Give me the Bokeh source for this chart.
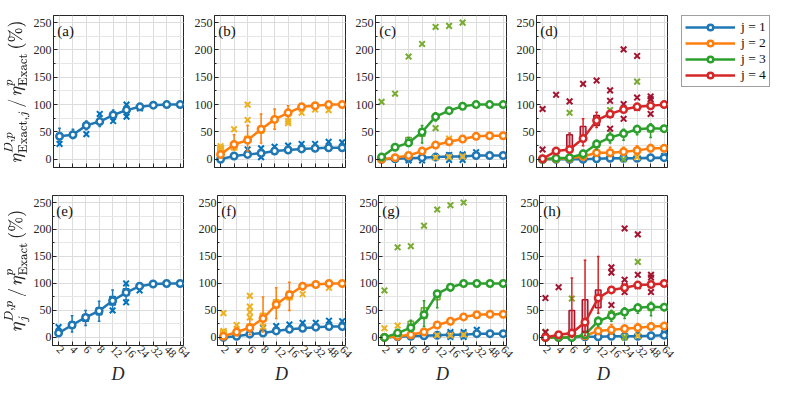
import math
from bokeh.plotting import figure
from bokeh.layouts import column, row
from bokeh.models import (Range1d, FixedTicker, SingleIntervalTicker, Label,
                          Legend, LegendItem)
from bokeh.embed import file_html
from bokeh.resources import INLINE

# ---------------- data ----------------
D_VALUES = [2, 4, 6, 8, 12, 16, 24, 32, 48, 64]
D_LABELS = [str(d) for d in D_VALUES]
J_LABELS = ["j = 1", "j = 2", "j = 3", "j = 4"]
PANEL_TAGS = ["(a)", "(b)", "(c)", "(d)", "(e)", "(f)", "(g)", "(h)"]
LINE_COLORS = ["#1f77b4", "#ff7f0e", "#2ca02c", "#d62728"]
BOX_COLORS = ["#0072BD", "#EDB120", "#77AC30", "#A2142F"]

# panel (a)
a1_med = [42, 45, 62, 69, 81, 90, 96, 99, 100, 100]
a1_q1 = [38, 41, 58, 65, 77, 86, 94, 98, 99, 100]
a1_q3 = [47, 49, 66, 73, 85, 94, 98, 100, 100, 100]
a1_wl = [33, 38, 54, 60, 72, 82, 92, 97, 98, 99]
a1_wh = [57, 55, 70, 78, 90, 98, 100, 101, 101, 101]
a1_out_d = [2, 6, 8, 12, 16, 16, 24]
a1_out_v = [28, 46, 83, 70, 100, 78, 93]

# panel (b)
b1_med = [0, 6, 9, 11, 15, 17, 19, 20, 21, 21]
b1_wl = [0, 3, 5, 6, 11, 13, 15, 16, 17, 17]
b1_wh = [3, 9, 13, 16, 20, 22, 24, 25, 26, 26]
b1_out_d = [6, 8, 8, 12, 16, 24, 32, 48, 64]
b1_out_v = [18, 20, 4, 23, 25, 28, 28, 32, 31]
b2_med = [9, 27, 35, 55, 73, 85, 96, 98, 100, 100]
b2_q1 = [14, 17, 32, 48, 68, 80, 93, 97, 99, 100]
b2_q3 = [25, 27, 42, 60, 76, 88, 97, 99, 100, 100]
b2_wl = [3, 18, 15, 30, 55, 70, 90, 96, 98, 99]
b2_wh = [25, 45, 62, 83, 92, 98, 100, 101, 101, 101]
b2_out_d = [2, 2, 4, 6, 6, 16, 16, 24, 32, 48]
b2_out_v = [24, 19, 55, 100, 72, 70, 66, 85, 91, 90]

# panel (c)
c1_med = [0, 1, 2, 3, 4, 5, 5, 7, 7, 7]
c1_out_d = [6, 8, 16, 16, 24, 24, 32]
c1_out_v = [-2, -2, 8, -1, 9, -1, 13]
c2_med = [0, 3, 7, 15, 26, 32, 37, 42, 43, 43]
c2_wl = [0, 1, 4, 11, 22, 28, 33, 38, 39, 39]
c2_wh = [1, 5, 10, 19, 30, 36, 41, 46, 47, 47]
c2_out_d = [12, 16, 16, 24]
c2_out_v = [3, 4, 38, 5]
c3_med = [4, 22, 30, 50, 78, 89, 97, 100, 100, 100]
c3_q1 = [3, 22, 31, 42, 75, 88, 97, 100, 100, 100]
c3_q3 = [8, 22, 40, 55, 82, 92, 99, 100, 100, 100]
c3_wl = [2, 18, 25, 30, 70, 85, 95, 99, 99, 99]
c3_wh = [8, 26, 40, 62, 85, 94, 100, 101, 101, 101]
c3_out_d = [2, 4, 6, 8, 12, 12, 16, 24]
c3_out_v = [105, 120, 188, 211, 242, 57, 244, 250]

# panel (d)
d1_med = [0, 0, 0, 0, 1, 2, 2, 2, 3, 3]
d1_out_d = [64]
d1_out_v = [6]
d2_med = [0, 1, 2, 5, 12, 12, 14, 16, 20, 20]
d2_wl = [0, 0, 0, 2, 6, 5, 8, 10, 14, 14]
d2_wh = [1, 2, 4, 10, 18, 22, 22, 25, 27, 26]
d2_out_d = [32]
d2_out_v = [4]
d3_med = [0, 2, 3, 10, 28, 40, 47, 55, 57, 56]
d3_q1 = [0, 2, 3, 8, 22, 37, 45, 50, 50, 53]
d3_q3 = [0, 2, 3, 12, 32, 45, 50, 58, 60, 60]
d3_wl = [0, 0, 0, 2, 18, 30, 35, 45, 40, 50]
d3_wh = [2, 4, 6, 16, 35, 50, 55, 62, 65, 60]
d3_out_d = [6, 16, 24, 32]
d3_out_v = [85, 90, 0, 142]
d4_med = [1, 15, 18, 38, 71, 83, 91, 96, 98, 100]
d4_q1 = [1, 12, 16, 41, 62, 77, 90, 95, 98, 100]
d4_q3 = [3, 19, 45, 60, 80, 86, 93, 98, 99, 100]
d4_wl = [0, 10, 14, 25, 58, 76, 88, 94, 97, 99]
d4_wh = [4, 20, 48, 74, 86, 89, 95, 99, 100, 101]
d4_out_d = [2, 2, 4, 6, 8, 12, 16, 16, 16, 24, 24, 24, 32, 32, 32, 48, 48, 48]
d4_out_v = [92, 18, 118, 106, 138, 144, 126, 107, 56, 201, 101, 74, 189, 113, 94, 115, 110, 83]

# panel (e)
e1_med = [8, 23, 37, 49, 68, 83, 95, 99, 100, 100]
e1_q1 = [6, 18, 30, 42, 60, 78, 92, 98, 99, 100]
e1_q3 = [12, 28, 42, 55, 76, 90, 98, 100, 100, 100]
e1_wl = [4, 10, 22, 30, 48, 70, 88, 97, 98, 99]
e1_wh = [12, 40, 50, 67, 88, 98, 100, 101, 101, 101]
e1_out_d = [2, 12, 16, 16, 24]
e1_out_v = [19, 50, 100, 65, 87]

# panel (f)
f1_med = [0, 2, 6, 8, 12, 15, 17, 19, 20, 20]
f1_wl = [0, 0, 3, 5, 9, 12, 14, 15, 16, 16]
f1_wh = [2, 5, 9, 12, 16, 19, 21, 23, 24, 24]
f1_out_d = [8, 12, 16, 24, 32, 48, 64]
f1_out_v = [18, 21, 24, 27, 27, 31, 30]
f2_med = [2, 10, 18, 35, 61, 79, 95, 98, 100, 100]
f2_q1 = [5, 8, 15, 30, 55, 70, 92, 97, 99, 100]
f2_q3 = [14, 13, 25, 45, 70, 85, 97, 99, 100, 100]
f2_wl = [0, 3, 5, 10, 35, 50, 88, 96, 98, 99]
f2_wh = [8, 18, 35, 75, 92, 102, 100, 101, 101, 101]
f2_out_d = [2, 2, 4, 6, 6, 6, 6, 8, 24, 48]
f2_out_v = [45, 12, 23, 77, 57, 47, 37, 20, 80, 92]

# panel (g)
g1_med = [0, 1, 2, 3, 4, 5, 5, 7, 7, 7]
g1_out_d = [16, 16, 24, 24, 32]
g1_out_v = [10, 1, 10, 1, 14]
g2_med = [0, 2, 5, 10, 23, 30, 38, 42, 43, 43]
g2_wl = [0, 0, 3, 7, 19, 26, 34, 38, 39, 39]
g2_wh = [1, 4, 7, 13, 27, 34, 42, 46, 47, 47]
g2_out_d = [2, 4, 12, 16, 24]
g2_out_v = [17, 22, 4, 4, 5]
g3_med = [0, 8, 18, 42, 81, 93, 100, 100, 100, 100]
g3_q1 = [0, 8, 20, 35, 70, 89, 100, 100, 100, 100]
g3_q3 = [0, 8, 30, 55, 82, 96, 100, 100, 100, 100]
g3_wl = [0, 6, 14, 20, 55, 86, 99, 99, 99, 99]
g3_wh = [2, 10, 32, 68, 86, 98, 101, 101, 101, 101]
g3_out_d = [2, 4, 6, 8, 12, 16, 24]
g3_out_v = [87, 167, 169, 207, 237, 245, 250]

# panel (h)
h1_med = [0, 0, 0, 1, 1, 2, 2, 2, 3, 4]
h1_out_d = [64]
h1_out_v = [8]
h2_med = [0, 0, 1, 3, 12, 14, 16, 18, 20, 21]
h2_wl = [0, 0, 0, 1, 6, 6, 9, 11, 14, 15]
h2_wh = [1, 1, 3, 8, 18, 24, 23, 26, 27, 27]
h2_out_d = [24, 32]
h2_out_v = [0, 3]
h3_med = [0, 0, 0, 5, 30, 40, 47, 55, 57, 56]
h3_q1 = [0, 0, 0, 3, 25, 36, 45, 50, 50, 53]
h3_q3 = [0, 0, 0, 8, 36, 48, 50, 58, 60, 60]
h3_wl = [0, 0, 0, 1, 20, 30, 35, 45, 40, 50]
h3_wh = [2, 2, 2, 10, 38, 50, 55, 62, 65, 60]
h3_out_d = [2, 6, 24, 32]
h3_out_v = [10, 72, 0, 140]
h4_med = [0, 5, 8, 28, 73, 88, 92, 97, 98, 100]
h4_q1 = [0, 4, 5, 10, 55, 85, 90, 95, 98, 100]
h4_q3 = [0, 6, 50, 70, 88, 90, 94, 98, 99, 100]
h4_wl = [0, 3, 0, 3, 45, 83, 88, 93, 97, 99]
h4_wh = [2, 7, 110, 143, 150, 92, 96, 99, 100, 101]
h4_out_d = [2, 2, 4, 16, 16, 16, 24, 24, 24, 24, 32, 32, 32, 48, 48, 48]
h4_out_v = [73, 10, 93, 130, 120, 60, 202, 107, 95, 84, 191, 116, 95, 116, 111, 84]

PANELS = [
    [(1, a1_med, a1_q1, a1_q3, a1_wl, a1_wh, a1_out_d, a1_out_v)],
    [(1, b1_med, None, None, b1_wl, b1_wh, b1_out_d, b1_out_v),
     (2, b2_med, b2_q1, b2_q3, b2_wl, b2_wh, b2_out_d, b2_out_v)],
    [(1, c1_med, None, None, None, None, c1_out_d, c1_out_v),
     (2, c2_med, None, None, c2_wl, c2_wh, c2_out_d, c2_out_v),
     (3, c3_med, c3_q1, c3_q3, c3_wl, c3_wh, c3_out_d, c3_out_v)],
    [(1, d1_med, None, None, None, None, d1_out_d, d1_out_v),
     (2, d2_med, None, None, d2_wl, d2_wh, d2_out_d, d2_out_v),
     (3, d3_med, d3_q1, d3_q3, d3_wl, d3_wh, d3_out_d, d3_out_v),
     (4, d4_med, d4_q1, d4_q3, d4_wl, d4_wh, d4_out_d, d4_out_v)],
    [(1, e1_med, e1_q1, e1_q3, e1_wl, e1_wh, e1_out_d, e1_out_v)],
    [(1, f1_med, None, None, f1_wl, f1_wh, f1_out_d, f1_out_v),
     (2, f2_med, f2_q1, f2_q3, f2_wl, f2_wh, f2_out_d, f2_out_v)],
    [(1, g1_med, None, None, None, None, g1_out_d, g1_out_v),
     (2, g2_med, None, None, g2_wl, g2_wh, g2_out_d, g2_out_v),
     (3, g3_med, g3_q1, g3_q3, g3_wl, g3_wh, g3_out_d, g3_out_v)],
    [(1, h1_med, None, None, None, None, h1_out_d, h1_out_v),
     (2, h2_med, None, None, h2_wl, h2_wh, h2_out_d, h2_out_v),
     (3, h3_med, h3_q1, h3_q3, h3_wl, h3_wh, h3_out_d, h3_out_v),
     (4, h4_med, h4_q1, h4_q3, h4_wl, h4_wh, h4_out_d, h4_out_v)],
]

YLABEL_TOP = r"$$\eta^{D,p}_{\mathrm{Exact},j}\,/\,\eta^{p}_{\mathrm{Exact}}\,(\%)$$"
YLABEL_BOT = r"$$\eta^{D,p}_{j}\,/\,\eta^{p}_{\mathrm{Exact}}\,(\%)$$"

SERIF = "Liberation Serif"
AX_COLOR = "#262626"
XS = list(range(1, len(D_VALUES) + 1))
FRAME_W, FRAME_H = 131, 152


def draw_series(p, j, med, q1, q3, wl, wh, out_d, out_v):
    lc = LINE_COLORS[j - 1]
    bc = BOX_COLORS[j - 1]
    if q1 is not None:
        idx = [i for i in range(len(XS)) if q3[i] - q1[i] > 0.5]
        p.vbar(x=[XS[i] for i in idx], width=0.42,
               bottom=[q1[i] for i in idx], top=[q3[i] for i in idx],
               fill_color=bc, fill_alpha=0.25, line_color=bc, line_width=1.5)
    if wl is not None:
        idx = [i for i in range(len(XS)) if wh[i] - wl[i] > 0.5]
        xw = [XS[i] for i in idx]
        lo = [wl[i] for i in idx]
        hi = [wh[i] for i in idx]
        p.segment(x0=xw, y0=lo, x1=xw, y1=hi, line_color=lc, line_width=1.5)
        p.segment(x0=[x - 0.1 for x in xw], y0=hi, x1=[x + 0.1 for x in xw], y1=hi,
                  line_color=lc, line_width=1.5)
        p.segment(x0=[x - 0.1 for x in xw], y0=lo, x1=[x + 0.1 for x in xw], y1=lo,
                  line_color=lc, line_width=1.5)
    if out_d:
        p.scatter(x=[D_VALUES.index(d) + 1 for d in out_d], y=out_v, marker="x",
                  size=8, line_width=2, line_color=bc)
    p.line(XS, med, line_color=lc, line_width=2.5)
    p.scatter(XS, med, marker="circle", size=6.5, line_color=lc, line_width=2.5,
              fill_color="white")


def make_panel(k):
    top = k < 4
    col = k % 4
    first = col == 0
    if top:
        left = 52 if first else 25
        right = 6 if first else 5
        btop, bbot = 15, 20
    else:
        left = 52 if first else 19
        right = 12 if first else 11
        btop, bbot = 8, 40
    p = figure(width=left + FRAME_W + right, height=btop + FRAME_H + bbot,
               output_backend="svg", toolbar_location=None,
               x_range=Range1d(0.55, 10.25), y_range=Range1d(-15, 263),
               min_border_left=left, min_border_right=right,
               min_border_top=btop, min_border_bottom=bbot,
               background_fill_color="white", border_fill_color="white")
    p.outline_line_color = AX_COLOR
    p.outline_line_width = 1
    p.xaxis.ticker = FixedTicker(ticks=XS)
    p.xaxis.major_label_overrides = {x: lab for x, lab in zip(XS, D_LABELS)}
    p.yaxis.ticker = SingleIntervalTicker(interval=50, num_minor_ticks=2)
    for ax in (p.xaxis[0], p.yaxis[0]):
        ax.axis_line_color = AX_COLOR
        ax.major_tick_line_color = AX_COLOR
        ax.minor_tick_line_color = AX_COLOR
        ax.major_tick_in = 4
        ax.major_tick_out = 0
        ax.minor_tick_in = 2
        ax.minor_tick_out = 0
        ax.major_label_text_font = SERIF
        ax.major_label_text_font_size = "12px"
        ax.major_label_text_color = AX_COLOR
    p.xaxis.minor_tick_line_color = None
    p.yaxis.major_label_standoff = 2 if top else 1
    p.xgrid.grid_line_color = "#dcdcdc"
    p.ygrid.grid_line_color = "#dcdcdc"
    p.ygrid.minor_grid_line_color = "#e6e6e6"
    if top:
        p.xaxis.major_label_text_color = None
        p.xaxis.major_label_standoff = 0
    else:
        p.xaxis.major_label_text_font_size = "11.5px"
        p.xaxis.major_label_orientation = -math.pi / 4
        p.xaxis.major_label_standoff = 2
        p.xaxis.axis_label = "D"
        p.xaxis.axis_label_text_font = SERIF
        p.xaxis.axis_label_text_font_style = "italic"
        p.xaxis.axis_label_text_font_size = "18px"
        p.xaxis.axis_label_standoff = 0
        p.xaxis.axis_label_text_color = AX_COLOR
    if first:
        p.yaxis.axis_label = YLABEL_TOP if top else YLABEL_BOT
        p.yaxis.axis_label_text_font_size = "14px"
        p.yaxis.axis_label_standoff = 1
        p.yaxis.axis_label_text_color = AX_COLOR
    for s in PANELS[k]:
        draw_series(p, *s)
    p.add_layout(Label(x=0.83, y=249, text=PANEL_TAGS[k], text_baseline="top",
                       text_font=SERIF, text_font_size="15px", text_color="#111111"))
    return p


panels = [make_panel(k) for k in range(8)]

# legend figure
leg = figure(width=112, height=15 + FRAME_H + 20, output_backend="svg",
             toolbar_location=None,
             x_range=Range1d(0, 1), y_range=Range1d(0, 1),
             x_axis_location=None, y_axis_location=None,
             min_border_left=9, min_border_top=15, min_border_right=0,
             min_border_bottom=0,
             outline_line_color=None, background_fill_color="white",
             border_fill_color="white")
leg.xgrid.visible = False
leg.ygrid.visible = False
items = []
for j in range(4):
    rl = leg.line(x=[5, 6], y=[5, 6], line_color=LINE_COLORS[j], line_width=2.5)
    rm = leg.scatter(x=[5], y=[5], marker="circle", size=6.5, line_color=LINE_COLORS[j],
                     line_width=2.5, fill_color="white")
    items.append(LegendItem(label=J_LABELS[j], renderers=[rl, rm]))
legend = Legend(items=items, location="top_left", margin=0, padding=3, spacing=0,
                glyph_width=50, glyph_height=14, label_height=14, label_standoff=6,
                label_text_font=SERIF, label_text_font_size="13.5px",
                label_text_color="#111111",
                border_line_color="#404040", border_line_width=1,
                background_fill_color="white")
leg.add_layout(legend)

layout = column(row(panels[0], panels[1], panels[2], panels[3], leg),
                row(panels[4], panels[5], panels[6], panels[7]))

open("out.html", "w").write(file_html(layout, INLINE))
